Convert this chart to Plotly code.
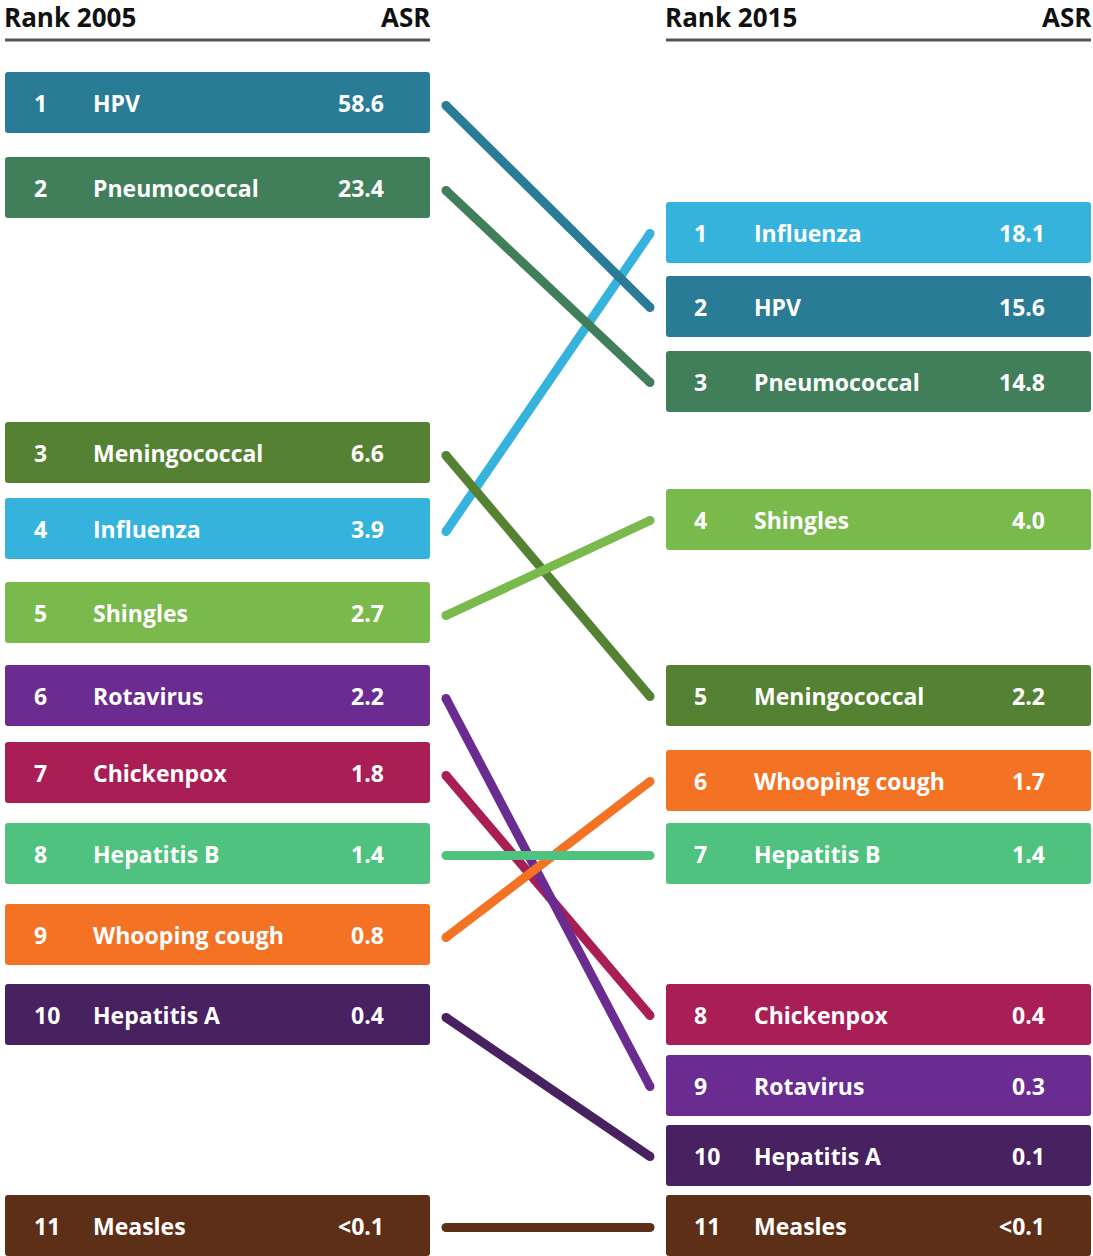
import plotly.graph_objects as go

# Vaccine-preventable disease notifications: rank and age-standardised rate (ASR)
diseases = ["HPV", "Pneumococcal", "Meningococcal", "Influenza", "Shingles",
            "Rotavirus", "Chickenpox", "Hepatitis B", "Whooping cough",
            "Hepatitis A", "Measles"]
rank_2005 = [1, 2, 3, 4, 5, 6, 7, 8, 9, 10, 11]
asr_2005 = ["58.6", "23.4", "6.6", "3.9", "2.7", "2.2", "1.8", "1.4", "0.8", "0.4", "<0.1"]
rank_2015 = [2, 3, 5, 1, 4, 9, 8, 7, 6, 10, 11]
asr_2015 = ["15.6", "14.8", "2.2", "18.1", "4.0", "0.3", "0.4", "1.4", "1.7", "0.1", "<0.1"]

colors = {
    "HPV": "#2a7b96", "Pneumococcal": "#417f5a", "Meningococcal": "#548232",
    "Influenza": "#35b3dc", "Shingles": "#7ab94c", "Rotavirus": "#6a2c91",
    "Chickenpox": "#a91e54", "Hepatitis B": "#4fc27f", "Whooping cough": "#f37224",
    "Hepatitis A": "#472160", "Measles": "#5e2f17",
}

# Layout: top edge (px) of each rank slot in each column, indexed by rank - 1
slot_top_2005 = [72, 157, 422, 498, 582, 665, 742, 823, 904, 984, 1195]
slot_top_2015 = [202, 276, 351, 489, 665, 750, 823, 984, 1055, 1125, 1195]
BOX_H = 61
W, H = 1093, 1256
LEFT = dict(x0=5, x1=430, rank_x=32, name_x=91, val_x=386)
RIGHT = dict(x0=666, x1=1091, rank_x=692, name_x=752, val_x=1047)
LINK_X0, LINK_X1 = 446, 650

FONT = "Open Sans, Noto Sans, sans-serif"


def rounded_rect(x0, y0, x1, y1, r=3):
    return (f"M {x0+r},{y0} L {x1-r},{y0} Q {x1},{y0} {x1},{y0+r} "
            f"L {x1},{y1-r} Q {x1},{y1} {x1-r},{y1} L {x0+r},{y1} "
            f"Q {x0},{y1} {x0},{y1-r} L {x0},{y0+r} Q {x0},{y0} {x0+r},{y0} Z")


fig = go.Figure()
shapes = []
annotations = []


def add_column(col, ranks, values, slots, year):
    # header
    annotations.append(dict(x=col["x0"], xshift=-3, y=17, xref="x", yref="y",
                            text=f"<b>Rank {year}</b>",
                            showarrow=False, xanchor="left", yanchor="middle",
                            font=dict(family=FONT, size=26, color="#111")))
    annotations.append(dict(x=col["x1"], xshift=3, y=17, xref="x", yref="y", text="<b>ASR</b>",
                            showarrow=False, xanchor="right", yanchor="middle",
                            font=dict(family=FONT, size=26, color="#111")))
    shapes.append(dict(type="line", xref="x", yref="y", x0=col["x0"], x1=col["x1"],
                       y0=40, y1=40, line=dict(color="#555555", width=3)))
    for name, rk, val in zip(diseases, ranks, values):
        top = slots[rk - 1]
        cy = top + BOX_H / 2
        shapes.append(dict(type="path", xref="x", yref="y",
                           path=rounded_rect(col["x0"], top, col["x1"], top + BOX_H),
                           fillcolor=colors[name], line=dict(width=0), layer="below"))
        for txt, x, anchor in ((str(rk), col["rank_x"], "left"),
                               (name, col["name_x"], "left"),
                               (val, col["val_x"], "right")):
            annotations.append(dict(x=x, y=cy, xref="x", yref="y", text=f"<b>{txt}</b>",
                                    showarrow=False, xanchor=anchor, yanchor="middle",
                                    font=dict(family=FONT, size=23, color="white")))


add_column(LEFT, rank_2005, asr_2005, slot_top_2005, 2005)
add_column(RIGHT, rank_2015, asr_2015, slot_top_2015, 2015)

# Connectors from 2005 rank to 2015 rank (drawing order controls overlap)
link_order = ["Influenza", "Pneumococcal", "Meningococcal", "Shingles", "HPV",
              "Chickenpox", "Rotavirus", "Whooping cough", "Hepatitis B",
              "Hepatitis A", "Measles"]
for name in link_order:
    i = diseases.index(name)
    top0 = slot_top_2005[rank_2005[i] - 1]
    top1 = slot_top_2015[rank_2015[i] - 1]
    if top0 == top1:
        # same height on both sides: keep the connector level
        y0 = y1 = top0 + BOX_H / 2 + 2
    else:
        y0 = top0 + BOX_H / 2 + 3
        y1 = top1 + BOX_H / 2 + 1
    fig.add_trace(go.Scatter(
        x=[LINK_X0, LINK_X1], y=[y0, y1], mode="lines+markers",
        line=dict(color=colors[name], width=9),
        marker=dict(color=colors[name], size=9, line=dict(width=0)),
        hoverinfo="skip", showlegend=False))

fig.update_layout(
    width=W, height=H, margin=dict(l=0, r=0, t=0, b=0),
    paper_bgcolor="white", plot_bgcolor="white",
    xaxis=dict(range=[0, W], visible=False, fixedrange=True),
    yaxis=dict(range=[H, 0], visible=False, fixedrange=True),
    shapes=shapes, annotations=annotations, showlegend=False,
)

fig.write_html("out.html")
